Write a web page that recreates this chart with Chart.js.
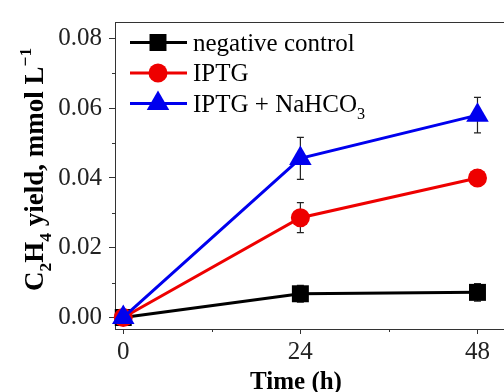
<!DOCTYPE html>
<html>
<head>
<meta charset="utf-8">
<script src="https://cdn.jsdelivr.net/npm/chart.js@4/dist/chart.umd.min.js"></script>
<style>
    html, body { margin: 0; padding: 0; background: #fff; overflow: hidden; }
    #wrap { width: 504px; height: 392px; overflow: hidden; }
</style>
</head>
<body>
<div id="wrap"><canvas id="yieldChart" width="520" height="392"></canvas></div>
<script>
// data
const times = [0, 24, 48];
const seriesNames = ["negative control", "IPTG", "IPTG + NaHCO_3"];
const controlYield = [0, 0.0068, 0.0072];
const controlErr = [0, 0.0024, 0.0025];
const iptgYield = [0, 0.0286, 0.0400];
const iptgErr = [0, 0.0043, 0.0023];
const bicarbYield = [0, 0.0456, 0.0580];
const bicarbErr = [0, 0.0060, 0.0051];
const xTicks = [0, 24, 48];
const xMinorTicks = [12, 36];
const yTicks = [0, 0.02, 0.04, 0.06, 0.08];
const yTickLabels = ["0.00", "0.02", "0.04", "0.06", "0.08"];
const yMinorTicks = [0.01, 0.03, 0.05, 0.07];
const xTitle = "Time (h)";
const yTitle = "C_2H_4 yield, mmol L^{\u22121}";

const SERIF = "'Liberation Serif', 'Times New Roman', serif";

function toPoints(ys) {
    return times.map((t, i) => ({ x: t, y: ys[i] }));
}

// split "C_2H_4" style text into plain / sub / sup runs
function parseRich(str) {
    const parts = [];
    const re = /([_^])\{([^}]*)\}|([_^])(.)|([^_^]+)/g;
    let m;
    while ((m = re.exec(str)) !== null) {
        if (m[1]) parts.push({ t: m[2], kind: m[1] });
        else if (m[3]) parts.push({ t: m[4], kind: m[3] });
        else parts.push({ t: m[5], kind: "" });
    }
    return parts;
}

function drawRich(ctx, str, x, y, size, weight) {
    const parts = parseRich(str);
    ctx.textAlign = "left";
    ctx.textBaseline = "alphabetic";
    let cx = x;
    parts.forEach((p) => {
        let fs = size, dy = 0;
        if (p.kind === "_") { fs = size * 0.65; dy = size * 0.3; }
        if (p.kind === "^") { fs = size * 0.65; dy = -size * 0.45; }
        ctx.font = weight + " " + fs + "px " + SERIF;
        ctx.fillText(p.t, cx, y + dy);
        cx += ctx.measureText(p.t).width;
    });
    return cx - x;
}

const datasets = [
    {
        label: seriesNames[0],
        data: toPoints(controlYield),
        errors: controlErr,
        borderColor: "#000000",
        backgroundColor: "#000000",
        pointStyle: "rect",
        pointRadius: 12,
        order: 3,
    },
    {
        label: seriesNames[1],
        data: toPoints(iptgYield),
        errors: iptgErr,
        borderColor: "#ee0000",
        backgroundColor: "#ee0000",
        pointStyle: "circle",
        pointRadius: 9.5,
        order: 2,
    },
    {
        label: seriesNames[2],
        data: toPoints(bicarbYield),
        errors: bicarbErr,
        borderColor: "#0000ee",
        backgroundColor: "#0000ee",
        pointStyle: "triangle",
        pointRadius: 13,
        order: 1,
    },
];
datasets.forEach((d) => {
    d.borderWidth = 3;
    d.pointBorderWidth = 0;
    d.pointHoverRadius = d.pointRadius;
    d.pointBackgroundColor = d.backgroundColor;
    d.fill = false;
    d.tension = 0;
    d.clip = false;
});

// error bars, drawn under the markers
const errorBars = {
    id: "errorBars",
    beforeDatasetsDraw(chart) {
        const ctx = chart.ctx;
        const xs = chart.scales.x, ys = chart.scales.y;
        ctx.save();
        ctx.strokeStyle = "#222";
        ctx.lineWidth = 1.2;
        chart.data.datasets.forEach((ds) => {
            ds.data.forEach((p, i) => {
                const e = ds.errors[i];
                if (!e) return;
                const px = xs.getPixelForValue(p.x);
                const top = ys.getPixelForValue(p.y + e);
                const bot = ys.getPixelForValue(p.y - e);
                ctx.beginPath();
                ctx.moveTo(px, top); ctx.lineTo(px, bot);
                ctx.moveTo(px - 3.5, top); ctx.lineTo(px + 3.5, top);
                ctx.moveTo(px - 3.5, bot); ctx.lineTo(px + 3.5, bot);
                ctx.stroke();
            });
        });
        ctx.restore();
    },
};

// frame, minor ticks, axis titles and the in-plot legend
const decorations = {
    id: "decorations",
    afterDraw(chart) {
        const ctx = chart.ctx;
        const area = chart.chartArea;
        const xs = chart.scales.x, ys = chart.scales.y;
        ctx.save();
        ctx.strokeStyle = "#333";
        ctx.lineWidth = 1;
        ctx.beginPath();
        ctx.moveTo(area.left, area.top + 0.5);
        ctx.lineTo(area.right, area.top + 0.5);
        yMinorTicks.forEach((v) => {
            const py = Math.round(ys.getPixelForValue(v)) + 0.5;
            ctx.moveTo(area.left - 3, py); ctx.lineTo(area.left, py);
        });
        xMinorTicks.forEach((v) => {
            const px = Math.round(xs.getPixelForValue(v)) + 0.5;
            ctx.moveTo(px, area.bottom); ctx.lineTo(px, area.bottom + 3);
        });
        ctx.stroke();

        ctx.fillStyle = "#000";
        // x title
        ctx.font = "bold 25px " + SERIF;
        const w = ctx.measureText(xTitle).width;
        ctx.textBaseline = "alphabetic";
        ctx.textAlign = "left";
        ctx.fillText(xTitle, 296 - w / 2, 389);

        // y title
        ctx.save();
        ctx.translate(43, 291);
        ctx.rotate(-Math.PI / 2);
        drawRich(ctx, yTitle, 0, 0, 27, "bold");
        ctx.restore();

        // legend: line + marker + label
        chart.data.datasets.forEach((ds, i) => {
            const ly = 42.5 + i * 30.5;
            ctx.strokeStyle = ds.borderColor;
            ctx.lineWidth = 3;
            ctx.beginPath();
            ctx.moveTo(130, ly); ctx.lineTo(187, ly);
            ctx.stroke();
            ctx.fillStyle = ds.backgroundColor;
            Chart.helpers.drawPoint(ctx, {
                pointStyle: ds.pointStyle,
                radius: ds.pointRadius,
                borderWidth: 0,
                rotation: 0,
            }, 158, ly);
            ctx.fillStyle = "#000";
            drawRich(ctx, ds.label, 193, ly + 8, 25, "normal");
        });
        ctx.restore();
    },
};

new Chart(document.getElementById("yieldChart"), {
    type: "line",
    data: { datasets: datasets },
    options: {
        responsive: false,
        animation: false,
        devicePixelRatio: 1,
        layout: { padding: { top: 15, right: 12, left: 0, bottom: 0 } },
        plugins: {
            legend: { display: false },
            tooltip: { enabled: false },
        },
        scales: {
            x: {
                type: "linear",
                min: -1.12,
                max: 52,
                afterBuildTicks: (s) => { s.ticks = xTicks.map((v) => ({ value: v })); },
                afterFit: (s) => { s.height = 63; },
                border: { display: true, color: "#333", width: 1 },
                grid: { drawOnChartArea: false, drawTicks: true, tickLength: 5, color: "#333" },
                ticks: {
                    padding: 3,
                    color: "#222",
                    font: { family: SERIF, size: 25 },
                    callback: (v) => String(v),
                },
            },
            y: {
                min: -0.0033,
                max: 0.0847,
                afterBuildTicks: (s) => { s.ticks = yTicks.map((v) => ({ value: v })); },
                afterFit: (s) => { s.width = 115; },
                border: { display: true, color: "#333", width: 1 },
                grid: { drawOnChartArea: false, drawTicks: true, tickLength: 6, color: "#333" },
                ticks: {
                    padding: 7,
                    color: "#222",
                    font: { family: SERIF, size: 25 },
                    callback: (v) => yTickLabels[yTicks.indexOf(v)] ?? "",
                },
            },
        },
    },
    plugins: [errorBars, decorations],
});
</script>
</body>
</html>
